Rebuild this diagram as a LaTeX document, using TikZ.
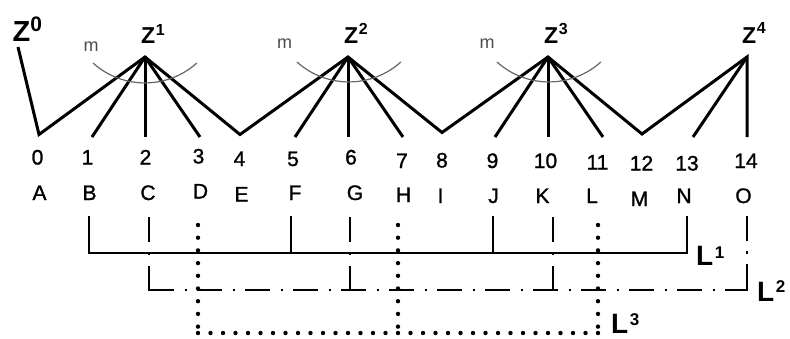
\documentclass[tikz,border=0pt]{standalone}
\usepackage{fontspec}
\setmainfont{Liberation Sans}
\newcommand{\supr}[3]{\raisebox{#2}{\fontsize{#1}{#1}\selectfont\bfseries #3}}
\begin{document}
\begin{tikzpicture}[x=1pt,y=-1pt,
  zline/.style={line width=3pt,line join=miter},
  arcline/.style={line width=1.2pt,draw=black!60},
  lab/.style={inner sep=0pt,anchor=base,font=\fontsize{21}{24}\selectfont\addfontfeature{FakeBold=1.2}},
  mlab/.style={inner sep=0pt,font=\fontsize{18}{22}\selectfont,text=black!70},
  zlab/.style={inner sep=0pt,anchor=base west,font=\fontsize{23}{26}\selectfont\bfseries},
  llab/.style={inner sep=0pt,anchor=base west,font=\fontsize{28}{32}\selectfont\bfseries},
  lone/.style={line width=2.3pt},
  ltwo/.style={line width=2.3pt,dash pattern=on 25pt off 10.5pt on 2.5pt off 10pt},
  ltwov/.style={line width=2.3pt,dash pattern=on 25pt off 10.5pt on 2.5pt off 10.5pt},
  lthree/.style={line width=4.4pt,line cap=round,dash pattern=on 0pt off 12.7pt},
  lthreeh/.style={line width=4.4pt,line cap=round,dash pattern=on 0pt off 12.5pt},
]
\useasboundingbox (0,0) rectangle (790,338);
% apexes
\coordinate (z0) at (18,47);
\coordinate (z1) at (145,57);
\coordinate (z2) at (348,57);
\coordinate (z3) at (548,57);
\coordinate (z4) at (747,57);
% feet
\coordinate (p0) at (39,134.5);
\coordinate (p1) at (92,137);
\coordinate (p2) at (145,137);
\coordinate (p3) at (200,137);
\coordinate (p4) at (240,134.5);
\coordinate (p5) at (295,137);
\coordinate (p6) at (348,137);
\coordinate (p7) at (403,137);
\coordinate (p8) at (442,132.5);
\coordinate (p9) at (495,137);
\coordinate (p10) at (548,137);
\coordinate (p11) at (603,137);
\coordinate (p12) at (642,134);
\coordinate (p13) at (693,137);
\coordinate (p14) at (747,137);
% zigzag
\draw[zline] (z0) -- (p0) -- (z1) -- (p4) -- (z2) -- (p8) -- (z3) -- (p12) -- (z4) -- (p14);
\draw[zline] (z1) -- (p1);
\draw[zline] (z1) -- (p2);
\draw[zline] (z1) -- (p3);
\draw[zline] (z2) -- (p5);
\draw[zline] (z2) -- (p6);
\draw[zline] (z2) -- (p7);
\draw[zline] (z3) -- (p9);
\draw[zline] (z3) -- (p10);
\draw[zline] (z3) -- (p11);
\draw[zline] (z4) -- (p13);
% arcs
\coordinate (a1) at (93,63);
\coordinate (a2) at (297,62);
\coordinate (a3) at (497,62);
\draw[arcline] (a1) arc[start angle=228,end angle=312,radius=77.6pt];
\draw[arcline] (a2) arc[start angle=228,end angle=312,radius=77.6pt];
\draw[arcline] (a3) arc[start angle=228,end angle=312,radius=77.6pt];
\node[mlab] (m1) at (91,47) {m};
\node[mlab] (m2) at (284.5,44) {m};
\node[mlab] (m3) at (487,44) {m};
% Z labels
\node[zlab,font=\fontsize{29}{33}\selectfont\bfseries] (t0) at (12.5,41) {Z\supr{21}{9.5pt}{0}};
\node[zlab] (t1) at (141,43) {Z\kern0.5pt\supr{16}{8pt}{1}};
\node[zlab] (t2) at (344,43) {Z\kern0.5pt\supr{16}{8.5pt}{2}};
\node[zlab] (t3) at (544,43) {Z\kern0.5pt\supr{16}{9pt}{3}};
\node[zlab] (t4) at (742,43) {Z\kern0.5pt\supr{16}{9.5pt}{4}};
% numbers
\node[lab] (n0) at (37.5,164.5) {0};
\node[lab] (n1) at (87.5,164.5) {1};
\node[lab] (n2) at (145.5,164.5) {2};
\node[lab] (n3) at (198.5,163.5) {3};
\node[lab] (n4) at (239.5,166) {4};
\node[lab] (n5) at (293,166) {5};
\node[lab] (n6) at (351,164.5) {6};
\node[lab] (n7) at (402,168) {7};
\node[lab] (n8) at (442,167.5) {8};
\node[lab] (n9) at (492.5,168) {9};
\node[lab] (n10) at (545.5,168) {10};
\node[lab] (n11) at (597.5,169.5) {11};
\node[lab] (n12) at (641.5,170.5) {12};
\node[lab] (n13) at (687,170.5) {13};
\node[lab] (n14) at (746,168) {14};
% letters
\node[lab] (cA) at (39.5,200) {A};
\node[lab] (cB) at (89.5,200) {B};
\node[lab] (cC) at (148,200) {C};
\node[lab] (cD) at (200.5,198.5) {D};
\node[lab] (cE) at (241.5,201.5) {E};
\node[lab] (cF) at (295,200) {F};
\node[lab] (cG) at (355,200) {G};
\node[lab] (cH) at (403.5,202) {H};
\node[lab] (cI) at (440.5,203) {I};
\node[lab] (cJ) at (493.5,203) {J};
\node[lab] (cK) at (542.5,203) {K};
\node[lab] (cL) at (592,203) {L};
\node[lab] (cM) at (639.5,206) {M};
\node[lab] (cN) at (684,203) {N};
\node[lab] (cO) at (743.5,203) {O};
% L1
\coordinate (b1) at (89,215.5);
\coordinate (b2) at (89,253);
\coordinate (b3) at (687,253);
\coordinate (b4) at (687,215.5);
\coordinate (f1) at (291,215.5);
\coordinate (j1) at (493,215.5);
\draw[lone] (b1) -- (b2) -- (b3) -- (b4);
\draw[lone] (f1) -- (f1 |- b2);
\draw[lone] (j1) -- (j1 |- b2);
% L2
\coordinate (c1) at (149,217);
\coordinate (c2) at (149,290);
\coordinate (g1) at (350,217);
\coordinate (k1) at (553,217);
\coordinate (o1) at (747,215.5);
\coordinate (o2) at (747,290);
\draw[ltwov] (c1) -- (c2);
\draw[ltwov] (g1) -- (g1 |- c2);
\draw[ltwov] (k1) -- (k1 |- c2);
\draw[ltwov] (o1) -- (o2);
\draw[ltwo] (c2) -- (o2);
\draw[lone] ([yshift=6pt]c2) -- (c2) -- ([xshift=6pt]c2);
\draw[lone] ([xshift=-6pt]o2) -- (o2) -- ([yshift=6pt]o2);
% L3
\coordinate (d1) at (198,225);
\coordinate (d2) at (198,333);
\coordinate (h1) at (398,225);
\coordinate (l1) at (598,225);
\coordinate (l2) at (598.5,333);
\draw[lthree] (d1) -- ([yshift=3pt]d2);
\draw[lthree] (h1) -- ([yshift=3pt]h1 |- d2);
\draw[lthree] (l1) -- ([yshift=3pt]l1 |- d2);
\draw[lthreeh] (d2) -- (l2);
% L labels
\node[llab] (L1) at (696,265) {L\kern1.5pt\supr{17}{6.5pt}{1}};
\node[llab] (L2) at (757,301) {L\kern1.5pt\supr{17}{9pt}{2}};
\node[llab] (L3) at (611,333.5) {L\kern1.5pt\supr{17}{8.5pt}{3}};
\end{tikzpicture}
\end{document}
